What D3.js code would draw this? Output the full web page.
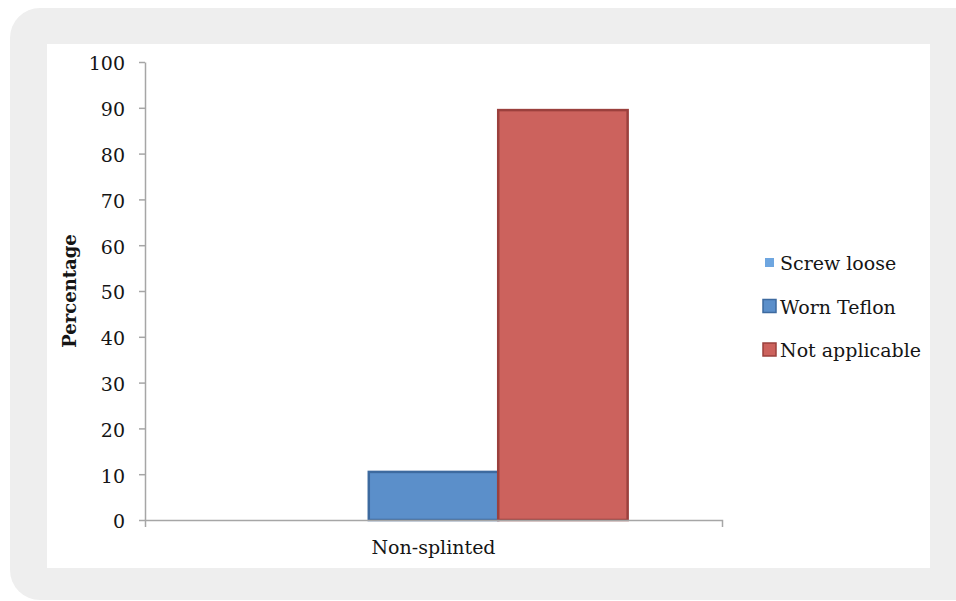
<!DOCTYPE html>
<html>
<head>
<meta charset="utf-8">
<script src="https://cdn.jsdelivr.net/npm/d3@7"></script>
<style>
  html, body { margin: 0; padding: 0; background: #ffffff; }
  svg { display: block; }
  text { font-family: "DejaVu Serif", "Liberation Serif", serif; fill: #151515; }
</style>
</head>
<body>
<svg id="chart" width="956" height="601"></svg>
<script>
// Failure categories per group, as percentages
const categories = ["Non-splinted"];
const seriesNames = ["Screw loose", "Worn Teflon", "Not applicable"];
const screwLoose = [0];
const wornTeflon = [10.5];
const notApplicable = [89.5];
const yTicks = [0, 10, 20, 30, 40, 50, 60, 70, 80, 90, 100];

const seriesValues = [screwLoose, wornTeflon, notApplicable];
const fills = ["#6EA6E0", "#5B8FCA", "#CC625D"];
const strokes = ["#5A90C8", "#3D6A9F", "#9B403D"];

const svg = d3.select("#chart");

// Framed panel
svg.append("rect")
  .attr("x", 10).attr("y", 8)
  .attr("width", 990).attr("height", 592)
  .attr("rx", 30).attr("ry", 30)
  .attr("fill", "#EEEEEE");
svg.append("rect")
  .attr("x", 47).attr("y", 44)
  .attr("width", 883).attr("height", 524)
  .attr("fill", "#ffffff");

const plot = { left: 145, right: 722, top: 62, bottom: 520 };

const x0 = d3.scaleBand()
  .domain(categories)
  .range([plot.left, plot.right])
  .paddingInner(0)
  .paddingOuter(0.243);

const x1 = d3.scaleBand()
  .domain(seriesNames)
  .range([0, x0.bandwidth()])
  .padding(0);

const y = d3.scaleLinear()
  .domain([0, 100])
  .range([plot.bottom, plot.top]);

// Bars
const groups = svg.append("g")
  .selectAll("g")
  .data(categories)
  .join("g")
  .attr("transform", d => `translate(${x0(d)},0)`);

groups.selectAll("rect")
  .data((d, ci) => seriesNames.map((s, si) => ({ s, si, v: seriesValues[si][ci] })))
  .join("rect")
  .filter(d => d.v > 0)
  .attr("x", d => x1(d.s))
  .attr("y", d => y(d.v))
  .attr("width", x1.bandwidth())
  .attr("height", d => y(0) - y(d.v))
  .attr("fill", d => fills[d.si])
  .attr("stroke", d => strokes[d.si])
  .attr("stroke-width", 2.5);

// Axes
const axisColor = "#A6A6A6";

const yAxis = svg.append("g")
  .attr("transform", `translate(${plot.left},0)`)
  .call(d3.axisLeft(y).tickValues(yTicks).tickSize(6).tickSizeOuter(0).tickPadding(14));
yAxis.select(".domain").attr("stroke", axisColor).attr("stroke-width", 1.5);
yAxis.selectAll(".tick line").attr("stroke", axisColor).attr("stroke-width", 1.5);
yAxis.selectAll(".tick text")
  .attr("font-family", "DejaVu Serif")
  .attr("font-size", 19)
  .attr("fill", "#151515")
  .attr("dy", "0.42em");

const xAxis = svg.append("g")
  .attr("transform", `translate(0,${plot.bottom})`)
  .call(d3.axisBottom(x0).tickSize(0).tickSizeOuter(7).tickPadding(21));
xAxis.select(".domain").attr("stroke", axisColor).attr("stroke-width", 1.5);
xAxis.selectAll(".tick text")
  .attr("font-family", "DejaVu Serif")
  .attr("font-size", 19)
  .attr("fill", "#151515");

// Y axis title
svg.append("text")
  .attr("transform", `translate(76,${(plot.top + plot.bottom) / 2}) rotate(-90)`)
  .attr("text-anchor", "middle")
  .attr("font-size", 18)
  .attr("font-weight", "bold")
  .text("Percentage");

// Legend
const legend = svg.append("g")
  .selectAll("g")
  .data(seriesNames)
  .join("g")
  .attr("transform", (d, i) => `translate(763,${264 + i * 43.5})`);

legend.append("rect")
  .attr("x", (d, i) => i === 0 ? 2 : 0)
  .attr("y", (d, i) => i === 0 ? -6 : -8)
  .attr("width", (d, i) => i === 0 ? 9 : 13)
  .attr("height", (d, i) => i === 0 ? 9 : 13)
  .attr("fill", (d, i) => fills[i])
  .attr("stroke", (d, i) => i === 0 ? "none" : strokes[i])
  .attr("stroke-width", 1.5);

legend.append("text")
  .attr("x", 17)
  .attr("y", 6)
  .attr("font-size", 19)
  .text(d => d);
</script>
</body>
</html>
